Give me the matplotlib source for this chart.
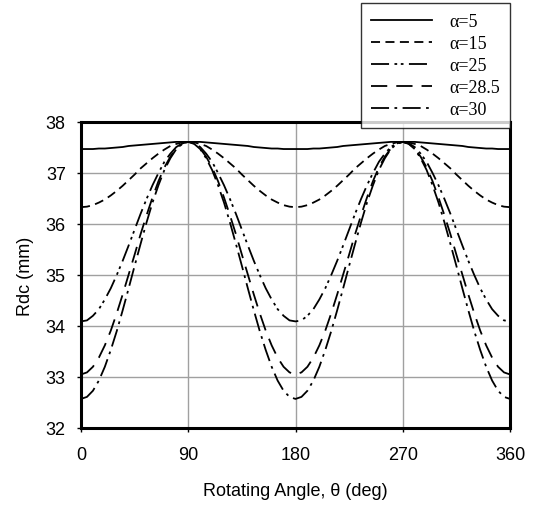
import matplotlib
matplotlib.use('Agg')
import matplotlib.pyplot as plt

# rotating angle (deg), 5 deg steps
theta = list(range(0, 361, 5))

# Rdc (mm) for each alpha
rdc_a5 = [37.47, 37.47, 37.47, 37.48, 37.48, 37.49, 37.50, 37.51, 37.53, 37.54, 37.55, 37.56, 37.57, 37.58, 37.59, 37.60, 37.61, 37.61, 37.61,
          37.61, 37.61, 37.60, 37.59, 37.58, 37.57, 37.56, 37.55, 37.54, 37.53, 37.51, 37.50, 37.49, 37.48, 37.48, 37.47, 37.47, 37.47,
          37.47, 37.47, 37.48, 37.48, 37.49, 37.50, 37.51, 37.53, 37.54, 37.55, 37.56, 37.57, 37.58, 37.59, 37.60, 37.61, 37.61, 37.61,
          37.61, 37.61, 37.60, 37.59, 37.58, 37.57, 37.56, 37.55, 37.54, 37.53, 37.51, 37.50, 37.49, 37.48, 37.48, 37.47, 37.47, 37.47]
rdc_a15 = [36.33, 36.34, 36.37, 36.42, 36.48, 36.56, 36.65, 36.75, 36.86, 36.97, 37.09, 37.19, 37.29, 37.38, 37.46, 37.53, 37.57, 37.60, 37.61,
           37.60, 37.57, 37.53, 37.46, 37.38, 37.29, 37.19, 37.09, 36.97, 36.86, 36.75, 36.65, 36.56, 36.48, 36.42, 36.37, 36.34, 36.33,
           36.34, 36.37, 36.42, 36.48, 36.56, 36.65, 36.75, 36.86, 36.97, 37.09, 37.19, 37.29, 37.38, 37.46, 37.53, 37.57, 37.60, 37.61,
           37.60, 37.57, 37.53, 37.46, 37.38, 37.29, 37.19, 37.09, 36.97, 36.86, 36.75, 36.65, 36.56, 36.48, 36.42, 36.37, 36.34, 36.33]
rdc_a25 = [34.09, 34.11, 34.20, 34.33, 34.52, 34.74, 35.00, 35.28, 35.58, 35.89, 36.20, 36.49, 36.76, 37.00, 37.22, 37.38, 37.51, 37.58, 37.61,
           37.58, 37.51, 37.38, 37.22, 37.00, 36.76, 36.49, 36.20, 35.89, 35.58, 35.28, 35.00, 34.74, 34.52, 34.33, 34.20, 34.11, 34.09,
           34.11, 34.20, 34.33, 34.52, 34.74, 35.00, 35.28, 35.58, 35.89, 36.20, 36.49, 36.76, 37.00, 37.22, 37.38, 37.51, 37.58, 37.61,
           37.58, 37.51, 37.38, 37.22, 37.00, 36.76, 36.49, 36.20, 35.89, 35.58, 35.28, 35.00, 34.74, 34.52, 34.33, 34.20, 34.11, 34.09]
rdc_a285 = [33.05, 33.09, 33.20, 33.38, 33.62, 33.91, 34.25, 34.62, 35.01, 35.40, 35.80, 36.17, 36.52, 36.84, 37.11, 37.32, 37.48, 37.58, 37.61,
            37.58, 37.48, 37.32, 37.11, 36.84, 36.52, 36.17, 35.80, 35.40, 35.01, 34.62, 34.25, 33.91, 33.62, 33.38, 33.20, 33.09, 33.05,
            33.09, 33.20, 33.38, 33.62, 33.91, 34.25, 34.62, 35.01, 35.40, 35.80, 36.17, 36.52, 36.84, 37.11, 37.32, 37.48, 37.58, 37.61,
            37.58, 37.48, 37.32, 37.11, 36.84, 36.52, 36.17, 35.80, 35.40, 35.01, 34.62, 34.25, 33.91, 33.62, 33.38, 33.20, 33.09, 33.05]
rdc_a30 = [32.57, 32.61, 32.73, 32.93, 33.20, 33.53, 33.90, 34.31, 34.74, 35.18, 35.61, 36.03, 36.42, 36.76, 37.06, 37.29, 37.47, 37.57, 37.61,
           37.57, 37.47, 37.29, 37.06, 36.76, 36.42, 36.03, 35.61, 35.18, 34.74, 34.31, 33.90, 33.53, 33.20, 32.93, 32.73, 32.61, 32.57,
           32.61, 32.73, 32.93, 33.20, 33.53, 33.90, 34.31, 34.74, 35.18, 35.61, 36.03, 36.42, 36.76, 37.06, 37.29, 37.47, 37.57, 37.61,
           37.57, 37.47, 37.29, 37.06, 36.76, 36.42, 36.03, 35.61, 35.18, 34.74, 34.31, 33.90, 33.53, 33.20, 32.93, 32.73, 32.61, 32.57]

labels = ['\u03b1=5', '\u03b1=15', '\u03b1=25', '\u03b1=28.5', '\u03b1=30']
x_ticks = [0, 90, 180, 270, 360]
y_ticks = [32, 33, 34, 35, 36, 37, 38]

plt.rcParams['font.family'] = ['Liberation Sans', 'DejaVu Sans']

fig = plt.figure(figsize=(5.37, 5.06), dpi=100)
ax = fig.add_axes([81 / 537, 1 - 429 / 506, (510 - 81) / 537, (429 - 123) / 506])

styles = ['-', (0, (5, 3)), (0, (10, 3, 1.5, 2, 1.5, 3)), (0, (9, 5)), (0, (10, 3, 1.5, 3))]
series = [rdc_a5, rdc_a15, rdc_a25, rdc_a285, rdc_a30]
for vals, ls, lab in zip(series, styles, labels):
    ax.plot(theta, vals, color='black', lw=1.3, linestyle=ls, label=lab)

ax.set_xlim(0, 360)
ax.set_ylim(32, 38)
ax.set_xticks(x_ticks)
ax.set_yticks(y_ticks)
ax.grid(True, color='#a0a0a0', lw=1)
ax.set_axisbelow(True)
for sp in ax.spines.values():
    sp.set_linewidth(2.2)
ax.tick_params(axis='both', length=3, width=1, labelsize=13)
ax.tick_params(axis='x', pad=10)
ax.tick_params(axis='y', pad=8)

ax.set_xlabel('Rotating Angle, \u03b8 (deg)', fontsize=13, labelpad=14)
ax.set_ylabel('Rdc (mm)', fontsize=13, labelpad=8)

handles, labs = ax.get_legend_handles_labels()
leg = fig.legend(handles, labs, loc='upper right',
                 bbox_to_anchor=(510 / 537, 1 - 4 / 506),
                 borderaxespad=0, frameon=True, fancybox=False,
                 prop={'family': 'Liberation Serif', 'size': 13},
                 handlelength=3.4, handletextpad=0.95, labelspacing=0.28,
                 borderpad=0.55)
leg.get_frame().set_edgecolor('black')
leg.get_frame().set_linewidth(1)

fig.savefig('out.png', dpi=100)
